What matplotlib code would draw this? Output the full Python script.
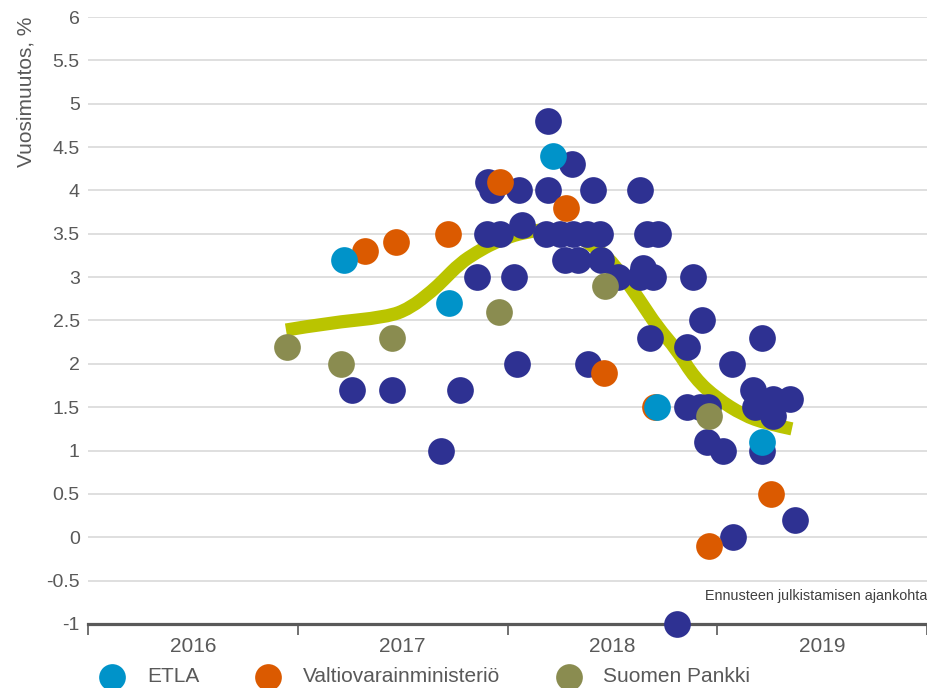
import matplotlib
matplotlib.use("Agg")
import matplotlib.pyplot as plt
from matplotlib.path import Path
from matplotlib.patches import PathPatch
import numpy as np

plt.rcParams['font.family'] = ['Liberation Sans', 'DejaVu Sans']

# ---- data (x = forecast publication time in decimal years, y = annual change %) ----
years = ["2016", "2017", "2018", "2019"]

etla_x = [2017.220, 2017.721, 2018.217, 2018.713, 2019.213]
etla_y = [3.2, 2.7, 4.4, 1.5, 1.1]

vm_x = [2017.321, 2017.468, 2017.716, 2017.964, 2018.279, 2018.460, 2018.703, 2018.961, 2019.256]
vm_y = [3.3, 3.4, 3.5, 4.1, 3.8, 1.9, 1.5, -0.1, 0.5]

sp_x = [2016.949, 2017.206, 2017.449, 2017.959, 2018.465, 2018.961]
sp_y = [2.2, 2.0, 2.3, 2.6, 2.9, 1.4]

other_x = [2017.259, 2017.449, 2017.683, 2017.774, 2017.855, 2017.907, 2017.926, 2017.902,
           2017.964, 2018.031, 2018.045, 2018.055, 2018.069, 2018.193, 2018.193, 2018.184,
           2018.250, 2018.307, 2018.312, 2018.274, 2018.336, 2018.379, 2018.408, 2018.441,
           2018.446, 2018.384, 2018.527, 2018.632, 2018.646, 2018.632, 2018.665, 2018.718,
           2018.694, 2018.679, 2018.808, 2018.856, 2018.884, 2018.927, 2018.856, 2018.918,
           2018.956, 2018.951, 2019.027, 2019.070, 2019.075, 2019.170, 2019.180, 2019.213,
           2019.213, 2019.266, 2019.347, 2019.266, 2019.371]
other_y = [1.7, 1.7, 1.0, 1.7, 3.0, 4.1, 4.0, 3.5,
           3.5, 3.0, 2.0, 4.0, 3.6, 4.8, 4.0, 3.5,
           3.5, 4.3, 3.5, 3.2, 3.2, 3.5, 4.0, 3.5,
           3.2, 2.0, 3.0, 4.0, 3.1, 3.0, 3.5, 3.5,
           3.0, 2.3, -1.0, 2.2, 3.0, 2.5, 1.5, 1.5,
           1.5, 1.1, 1.0, 2.0, 0.0, 1.7, 1.5, 2.3,
           1.0, 1.6, 1.6, 1.4, 0.2]

trend_x = [2016.944, 2017.139, 2017.425, 2017.535, 2017.645, 2017.692, 2017.774, 2017.855,
           2017.931, 2018.012, 2018.093, 2018.203, 2018.322, 2018.441, 2018.513, 2018.632,
           2018.713, 2018.808, 2018.894, 2018.999, 2019.123, 2019.237, 2019.356]
trend_y = [2.39, 2.47, 2.54, 2.64, 2.85, 2.96, 3.16, 3.29,
           3.39, 3.47, 3.52, 3.56, 3.50, 3.30, 3.14, 2.73,
           2.43, 2.16, 1.83, 1.60, 1.41, 1.31, 1.25]

labels = ["ETLA", "Valtiovarainministeriö", "Suomen Pankki"]
c_etla, c_vm, c_sp, c_other, c_trend = "#0093C9", "#DB5A00", "#8A8C50", "#2E3192", "#BAC400"
txt = "#595959"

fig = plt.figure(figsize=(9.27, 6.88), dpi=100)
ax = fig.add_axes([88 / 927, 64 / 688, 839 / 927, 607 / 688])
ax.set_xlim(2016, 2020)
ax.set_ylim(-1, 6)

yt = np.arange(-1, 6.01, 0.5)
ax.set_yticks(yt)
ax.set_yticklabels([f"{v:g}" for v in yt])
ax.grid(axis='y', color="#D9D9D9", lw=1.2)
ax.set_axisbelow(True)
for s in ["top", "right", "left"]:
    ax.spines[s].set_visible(False)
ax.spines["bottom"].set_color(txt)
ax.spines["bottom"].set_linewidth(2.3)
ax.tick_params(axis='y', length=0, pad=6, labelsize=14, labelcolor=txt)

ax.set_xticks([2016, 2017, 2018, 2019, 2020])
ax.set_xticklabels([])
ax.set_xticks([2016.5, 2017.5, 2018.5, 2019.5], minor=True)
ax.set_xticklabels(years, minor=True)
ax.tick_params(axis='x', which='major', length=8, width=1.2, color=txt, direction='out')
ax.tick_params(axis='x', which='minor', length=0, pad=9, labelsize=15, labelcolor=txt)

ax.set_ylabel("Vuosimuutos, %", fontsize=15, color=txt, loc='top')
ax.yaxis.set_label_coords(-0.062, 1.0)

# smooth trend curve: quadratic Bezier segments through midpoints of the read points
pts = list(zip(trend_x, trend_y))
verts = [pts[0]]
codes = [Path.MOVETO]
for i in range(1, len(pts) - 1):
    mid = ((pts[i][0] + pts[i + 1][0]) / 2, (pts[i][1] + pts[i + 1][1]) / 2)
    if i == len(pts) - 2:
        mid = pts[-1]
    verts += [pts[i], mid]
    codes += [Path.CURVE3, Path.CURVE3]
trend = PathPatch(Path(verts, codes), facecolor='none', edgecolor=c_trend, lw=9.5,
                  capstyle='butt', joinstyle='round', zorder=2)
ax.add_patch(trend)

ms = 370
ax.scatter(other_x, other_y, s=ms, color=c_other, linewidths=0, zorder=3, clip_on=False)
h_sp = ax.scatter(sp_x, sp_y, s=ms, color=c_sp, linewidths=0, zorder=4, clip_on=False)
h_vm = ax.scatter(vm_x, vm_y, s=ms, color=c_vm, linewidths=0, zorder=5, clip_on=False)
h_etla = ax.scatter(etla_x, etla_y, s=ms, color=c_etla, linewidths=0, zorder=6, clip_on=False)

ax.text(2020, -0.68, "Ennusteen julkistamisen ajankohta", ha='right', va='center',
        fontsize=10.4, color="#404040")

fig.legend([h_etla, h_vm, h_sp], labels, loc='center left', bbox_to_anchor=(0.0957, 0.016),
           ncol=3, frameon=False, fontsize=15, labelcolor=txt, borderpad=0,
           handlelength=1.28, handletextpad=1.03, columnspacing=2.65, scatterpoints=1)

fig.savefig("out.png", dpi=100)
